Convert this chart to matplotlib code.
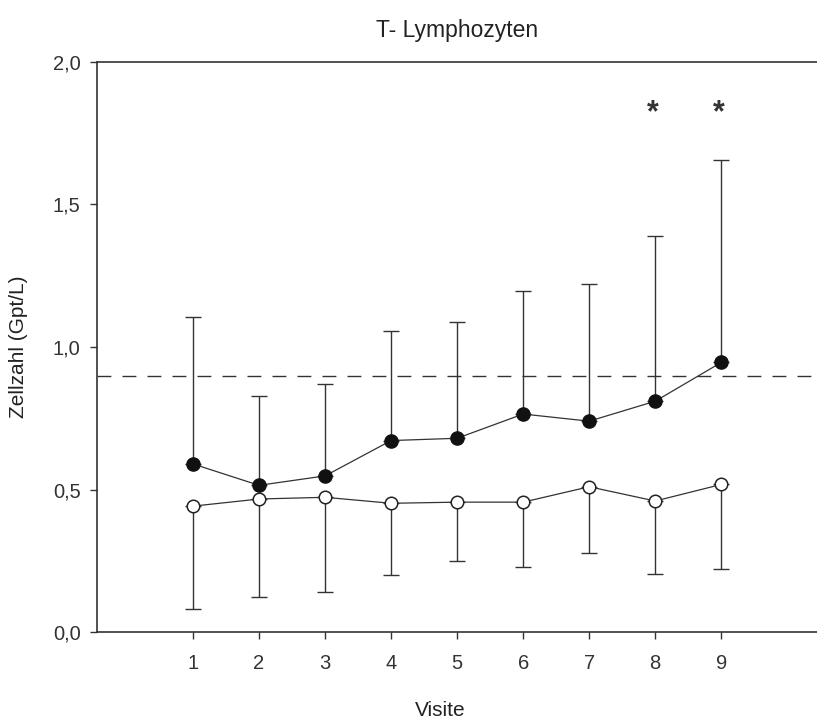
import numpy as np
import matplotlib
matplotlib.use("Agg")
import matplotlib.pyplot as plt

plt.rcParams['font.family'] = ['Liberation Sans', 'DejaVu Sans']

visits = [1, 2, 3, 4, 5, 6, 7, 8, 9]

# gefuellte Kreise: Mittelwert und obere Fehlerbalken
mean_filled = [0.59, 0.515, 0.548, 0.672, 0.68, 0.765, 0.74, 0.81, 0.946]
upper_filled = [1.105, 0.829, 0.871, 1.055, 1.088, 1.196, 1.221, 1.391, 1.655]

# offene Kreise: Mittelwert und untere Fehlerbalken
mean_open = [0.442, 0.467, 0.473, 0.452, 0.456, 0.456, 0.51, 0.46, 0.518]
lower_open = [0.08, 0.125, 0.141, 0.199, 0.251, 0.230, 0.278, 0.203, 0.22]

ref_line = 0.9
star_visits = [8, 9]
star_y = 1.82

fig = plt.figure(figsize=(8.17, 7.2), dpi=100)
ax = fig.add_axes([0.119, 0.122, 0.881, 0.792])

line_col = '#333333'

err_up = np.array(upper_filled) - np.array(mean_filled)
ax.errorbar(visits, mean_filled, yerr=[np.zeros(len(visits)), err_up],
            fmt='none', ecolor=line_col, elinewidth=1.0, capsize=6, capthick=1.0, zorder=2)
err_lo = np.array(mean_open) - np.array(lower_open)
ax.errorbar(visits, mean_open, yerr=[err_lo, np.zeros(len(visits))],
            fmt='none', ecolor=line_col, elinewidth=1.0, capsize=6, capthick=1.0, zorder=2)

ax.axhline(ref_line, color=line_col, lw=1.0, dashes=(10, 8), zorder=1)

ax.plot(visits, mean_filled, '-', color=line_col, lw=0.9, marker='o', markersize=9.5,
        markerfacecolor='#111111', markeredgecolor='#111111', zorder=3)
ax.plot(visits, mean_open, '-', color=line_col, lw=0.9, marker='o', markersize=9,
        markerfacecolor='white', markeredgecolor='#222222', markeredgewidth=1.1, zorder=3)

for v in star_visits:
    ax.text(v - 0.04, star_y, '*', ha='center', va='center', fontsize=22,
            fontweight='bold', color='#333333')

ax.set_xlim(-0.45, 10.45)
ax.set_ylim(0, 2.0)
ax.set_xticks(visits)
ax.set_yticks([0, 0.5, 1.0, 1.5, 2.0])
ax.set_yticklabels(['0,0', '0,5', '1,0', '1,5', '2,0'])

for s in ['left', 'bottom', 'top']:
    ax.spines[s].set_color(line_col)
    ax.spines[s].set_linewidth(1.2)
ax.spines['right'].set_visible(False)

ax.tick_params(direction='out', length=5, width=1.0, color=line_col,
               labelsize=14.5, labelcolor='#333333', pad=7)
ax.tick_params(axis='x', pad=11)

ax.set_title('T- Lymphozyten', fontsize=16.5, color='#222222', pad=18)
ax.set_xlabel('Visite', fontsize=15, color='#222222')
ax.xaxis.set_label_coords(0.477, -0.12)
ax.set_ylabel('Zellzahl (Gpt/L)', fontsize=15, color='#222222', labelpad=18)

fig.savefig('out.png', dpi=100)
